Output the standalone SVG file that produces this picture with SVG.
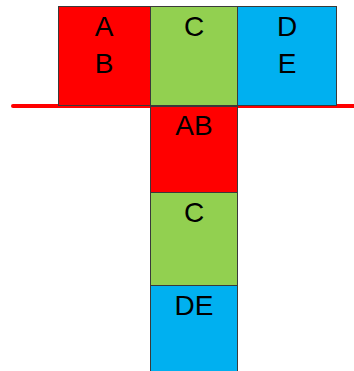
<svg xmlns="http://www.w3.org/2000/svg" width="354" height="371" viewBox="0 0 354 371">
<style>
.b{stroke:#3a3a3a;stroke-width:1}
.r{fill:#ff0000}.g{fill:#92d050}.u{fill:#00b0f0}
text{font-family:"Liberation Sans",Arial,sans-serif;font-size:28px;fill:#000;text-anchor:middle}
</style>
<rect width="354" height="371" fill="#fff"/>
<g id="connectors">
<line x1="13" y1="106" x2="356" y2="106" stroke="#ff0000" stroke-width="4" stroke-linecap="round"/>
</g>
<g id="nodeAB"><rect class="b r" x="58.5" y="6.5" width="92" height="99"/><text x="104" y="36">A</text><text x="104" y="73">B</text></g>
<g id="nodeC"><rect class="b g" x="150.5" y="6.5" width="87" height="99"/><text x="194" y="36">C</text></g>
<g id="nodeDE"><rect class="b u" x="237.5" y="6.5" width="99" height="99"/><text x="287" y="36">D</text><text x="287" y="73">E</text></g>
<g id="nodeAB2"><rect class="b r" x="150.5" y="106.5" width="87" height="86"/><text x="194" y="135">AB</text></g>
<g id="nodeC2"><rect class="b g" x="150.5" y="192.5" width="87" height="93"/><text x="194" y="222">C</text></g>
<g id="nodeDE2"><rect class="b u" x="150.5" y="285.5" width="87" height="90"/><text x="194" y="315">DE</text></g>
</svg>
